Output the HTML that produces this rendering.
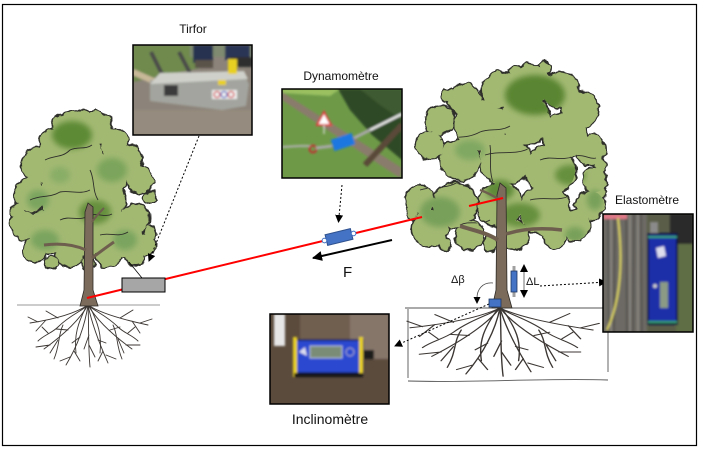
<!DOCTYPE html>
<html><head><meta charset="utf-8"><style>
html,body{margin:0;padding:0;background:#fff;}
svg{display:block;}
text{font-family:"Liberation Sans",sans-serif;fill:#111;}
</style></head><body>
<svg width="704" height="450" viewBox="0 0 704 450" xmlns="http://www.w3.org/2000/svg">
<defs>
<filter id="bl" x="-30%" y="-30%" width="160%" height="160%"><feGaussianBlur stdDeviation="3"/></filter>
<filter id="bl2" x="-30%" y="-30%" width="160%" height="160%"><feGaussianBlur stdDeviation="1"/></filter>
<filter id="rough" x="-10%" y="-10%" width="120%" height="120%">
<feTurbulence type="fractalNoise" baseFrequency="0.12" numOctaves="2" seed="3" result="n"/>
<feDisplacementMap in="SourceGraphic" in2="n" scale="7" xChannelSelector="R" yChannelSelector="G"/>
</filter>
<g id="lcrown">
<circle cx="70" cy="130" r="18"/><circle cx="95" cy="128" r="16"/><circle cx="55" cy="145" r="16"/>
<circle cx="115" cy="142" r="14"/><circle cx="128" cy="160" r="14"/><circle cx="40" cy="165" r="18"/>
<circle cx="80" cy="160" r="25"/><circle cx="110" cy="172" r="20"/><circle cx="140" cy="180" r="13"/>
<circle cx="30" cy="195" r="16"/><circle cx="65" cy="195" r="25"/><circle cx="100" cy="200" r="25"/>
<circle cx="135" cy="218" r="14"/><circle cx="25" cy="225" r="14"/><circle cx="50" cy="230" r="22"/>
<circle cx="85" cy="230" r="25"/><circle cx="120" cy="235" r="22"/><circle cx="145" cy="245" r="10"/>
<circle cx="35" cy="250" r="12"/><circle cx="70" cy="252" r="14"/><circle cx="108" cy="255" r="12"/>
<circle cx="135" cy="255" r="10"/><circle cx="82" cy="116" r="6"/><circle cx="104" cy="120" r="6"/>
<circle cx="150" cy="198" r="6"/><circle cx="18" cy="212" r="6"/><circle cx="150" cy="232" r="6"/>
<circle cx="88" cy="262" r="6"/><circle cx="52" cy="262" r="6"/>
</g>
<clipPath id="lclip">
<circle cx="70" cy="130" r="18"/><circle cx="95" cy="128" r="16"/><circle cx="55" cy="145" r="16"/>
<circle cx="115" cy="142" r="14"/><circle cx="128" cy="160" r="14"/><circle cx="40" cy="165" r="18"/>
<circle cx="80" cy="160" r="25"/><circle cx="110" cy="172" r="20"/><circle cx="140" cy="180" r="13"/>
<circle cx="30" cy="195" r="16"/><circle cx="65" cy="195" r="25"/><circle cx="100" cy="200" r="25"/>
<circle cx="135" cy="218" r="14"/><circle cx="25" cy="225" r="14"/><circle cx="50" cy="230" r="22"/>
<circle cx="85" cy="230" r="25"/><circle cx="120" cy="235" r="22"/><circle cx="145" cy="245" r="10"/>
<circle cx="35" cy="250" r="12"/><circle cx="70" cy="252" r="14"/><circle cx="108" cy="255" r="12"/>
<circle cx="135" cy="255" r="10"/>
</clipPath>
<g id="rcrown">
<circle cx="530" cy="85" r="20"/><circle cx="500" cy="90" r="18"/><circle cx="560" cy="90" r="18"/>
<circle cx="465" cy="100" r="16"/><circle cx="440" cy="120" r="14"/><circle cx="580" cy="110" r="18"/>
<circle cx="480" cy="125" r="25"/><circle cx="525" cy="120" r="25"/><circle cx="565" cy="135" r="22"/>
<circle cx="590" cy="150" r="15"/><circle cx="430" cy="145" r="14"/><circle cx="460" cy="160" r="20"/>
<circle cx="505" cy="160" r="25"/><circle cx="550" cy="170" r="25"/><circle cx="595" cy="180" r="12"/>
<circle cx="590" cy="205" r="14"/><circle cx="420" cy="200" r="14"/><circle cx="455" cy="205" r="22"/>
<circle cx="500" cy="205" r="22"/><circle cx="545" cy="210" r="25"/><circle cx="575" cy="225" r="15"/>
<circle cx="430" cy="228" r="18"/><circle cx="470" cy="235" r="14"/><circle cx="515" cy="235" r="14"/>
<circle cx="555" cy="238" r="10"/><circle cx="598" cy="192" r="8"/><circle cx="545" cy="68" r="6"/>
<circle cx="515" cy="72" r="6"/><circle cx="448" cy="96" r="6"/><circle cx="412" cy="212" r="6"/>
<circle cx="600" cy="165" r="6"/><circle cx="490" cy="244" r="6"/><circle cx="445" cy="244" r="6"/>
</g>
<clipPath id="rclip">
<circle cx="530" cy="85" r="20"/><circle cx="500" cy="90" r="18"/><circle cx="560" cy="90" r="18"/>
<circle cx="465" cy="100" r="16"/><circle cx="440" cy="120" r="14"/><circle cx="580" cy="110" r="18"/>
<circle cx="480" cy="125" r="25"/><circle cx="525" cy="120" r="25"/><circle cx="565" cy="135" r="22"/>
<circle cx="590" cy="150" r="15"/><circle cx="430" cy="145" r="14"/><circle cx="460" cy="160" r="20"/>
<circle cx="505" cy="160" r="25"/><circle cx="550" cy="170" r="25"/><circle cx="595" cy="180" r="12"/>
<circle cx="590" cy="205" r="14"/><circle cx="420" cy="200" r="14"/><circle cx="455" cy="205" r="22"/>
<circle cx="500" cy="205" r="22"/><circle cx="545" cy="210" r="25"/><circle cx="575" cy="225" r="15"/>
<circle cx="430" cy="228" r="18"/><circle cx="470" cy="235" r="14"/><circle cx="515" cy="235" r="14"/>
<circle cx="555" cy="238" r="10"/>
</clipPath>
<g id="roots" fill="none" stroke="#3b3633" stroke-width="0.9" stroke-linecap="round">
<path d="M0,0 C-12,8 -32,14 -58,18 M-30,13 L-42,6 M-42,15 L-52,26 M-50,17 L-60,12"/>
<path d="M0,0 C-8,14 -22,28 -44,44 M-20,25 L-32,24 M-30,35 L-38,48 M-38,40 L-52,42"/>
<path d="M0,0 C-3,20 -10,40 -22,60 M-8,32 L-16,38 M-14,46 L-8,56 M-18,52 L-28,56"/>
<path d="M0,0 C1,20 0,40 2,62 M1,30 L-4,44 M1,40 L7,52"/>
<path d="M0,0 C4,20 12,40 20,58 M10,35 L18,38 M15,46 L10,56 M18,50 L28,54"/>
<path d="M0,0 C8,14 22,28 44,44 M22,25 L32,22 M30,34 L36,48 M38,40 L52,40"/>
<path d="M0,0 C12,8 32,14 60,20 M32,13 L45,5 M44,16 L52,28 M52,18 L64,14"/>
<path d="M0,0 C-6,6 -18,10 -30,22 C-36,28 -44,30 -50,36 M-40,28 L-46,22"/>
<path d="M0,0 C6,6 18,10 30,22 C36,28 44,30 50,36 M40,28 L47,22"/>
<path d="M-2,2 C-10,18 -14,30 -12,48 M2,2 C10,18 14,30 12,48"/>
<path d="M-1,0 L-4,-4 M1,0 L4,-4"/>
<path d="M-25,20 C-30,30 -28,40 -34,54 M25,20 C30,30 28,40 34,54"/>
</g>
<marker id="ah" markerWidth="8" markerHeight="8" refX="7" refY="4" orient="auto" markerUnits="userSpaceOnUse"><path d="M0,0 L8,4 L0,8 Z" fill="#000"/></marker>
<marker id="ahb" markerWidth="10" markerHeight="10" refX="9" refY="5" orient="auto" markerUnits="userSpaceOnUse"><path d="M0,0 L10,5 L0,10 Z" fill="#000"/></marker>
</defs>

<rect width="704" height="450" fill="#fff"/>
<rect x="2.5" y="4.5" width="694" height="441" fill="none" stroke="#000" stroke-width="1.2"/>

<!-- LEFT TREE -->
<line x1="17" y1="305" x2="160" y2="305" stroke="#777" stroke-width="0.8"/>
<use href="#roots" transform="translate(88,305)"/>
<g filter="url(#rough)">
<use href="#lcrown" fill="#2e2e2a" stroke="#2e2e2a" stroke-width="3"/>
<use href="#lcrown" fill="#a2b972"/>
</g>
<g clip-path="url(#lclip)">
<g filter="url(#bl)">
<ellipse cx="72" cy="135" rx="20" ry="14" fill="#5d8a35"/>
<ellipse cx="95" cy="212" rx="16" ry="12" fill="#66903c"/>
<ellipse cx="45" cy="240" rx="14" ry="10" fill="#7aa45e"/>
<ellipse cx="112" cy="170" rx="15" ry="12" fill="#7ba45c"/>
<ellipse cx="38" cy="200" rx="11" ry="10" fill="#7aa45e"/>
<ellipse cx="125" cy="240" rx="12" ry="10" fill="#7aa45e"/>
<ellipse cx="60" cy="175" rx="10" ry="8" fill="#88ad66"/>
</g>
<g fill="none" stroke="#2e2e2a" stroke-width="0.9">
<path d="M45,160 C55,155 62,158 70,150 C78,146 85,150 92,145"/>
<path d="M30,200 C40,195 50,198 60,192 C70,190 80,195 90,190"/>
<path d="M90,170 C95,180 92,190 98,200"/>
<path d="M60,220 C70,215 78,222 88,216 C96,212 105,218 112,214"/>
<path d="M100,235 C110,232 118,238 128,232"/>
</g>
</g>
<polygon points="80,306 84,290 85,212 88,203 93,207 93,290 98,306" fill="#7a6b5a" stroke="#2e2a26" stroke-width="0.8"/>
<path d="M86,250 C75,245 60,243 44,245" stroke="#6e5e4e" stroke-width="3" fill="none"/>
<path d="M92,258 C100,252 108,246 114,242" stroke="#6e5e4e" stroke-width="3" fill="none"/>
<path d="M92,222 C96,216 100,212 104,208" stroke="#6e5e4e" stroke-width="2" fill="none"/>

<!-- RIGHT TREE -->
<g fill="none" stroke="#555" stroke-width="0.9">
<path d="M405,308 L610,308"/>
<path d="M408,309 L408,378"/>
<path d="M608,309 L608,372"/>
<path d="M408,381 C470,383 540,378 608,380"/>
</g>
<use href="#roots" transform="translate(500,308) scale(1.55,1.1)"/>
<g filter="url(#rough)">
<use href="#rcrown" fill="#2e2e2a" stroke="#2e2e2a" stroke-width="3"/>
<use href="#rcrown" fill="#a2b972"/>
</g>
<g clip-path="url(#rclip)">
<g filter="url(#bl)">
<ellipse cx="535" cy="95" rx="30" ry="20" fill="#5a8530"/>
<ellipse cx="520" cy="215" rx="20" ry="12" fill="#66903c"/>
<ellipse cx="570" cy="175" rx="15" ry="10" fill="#66903c"/>
<ellipse cx="440" cy="212" rx="20" ry="15" fill="#78a05a"/>
<ellipse cx="470" cy="150" rx="15" ry="10" fill="#80a862"/>
<ellipse cx="575" cy="235" rx="10" ry="8" fill="#78a05a"/>
<ellipse cx="500" cy="190" rx="14" ry="10" fill="#5f8a38"/>
<ellipse cx="595" cy="200" rx="8" ry="10" fill="#78a05a"/>
</g>
<g fill="none" stroke="#2e2e2a" stroke-width="0.9">
<path d="M440,140 C455,135 465,140 480,132 C490,128 500,132 510,126"/>
<path d="M485,155 C500,150 515,156 530,148"/>
<path d="M490,145 C492,160 488,170 494,185"/>
<path d="M540,160 C552,155 560,162 575,156 C585,154 590,160 596,158"/>
<path d="M420,190 C435,185 445,190 458,182"/>
<path d="M530,200 C545,196 555,202 570,196"/>
<path d="M460,225 C470,220 480,226 490,220"/>
</g>
</g>
<polygon points="492,308 496,290 497,195 500,183 506,188 507,290 512,308" fill="#7a6b5a" stroke="#2e2a26" stroke-width="0.8"/>
<path d="M498,240 C485,232 472,230 460,226" stroke="#6e5e4e" stroke-width="4" fill="none"/>
<path d="M506,234 C525,228 545,228 562,230" stroke="#6e5e4e" stroke-width="3.5" fill="none"/>
<path d="M500,200 C492,195 486,192 480,190" stroke="#6e5e4e" stroke-width="2.5" fill="none"/>

<!-- red cable -->
<line x1="87" y1="298" x2="422" y2="217" stroke="#ff0000" stroke-width="2"/>
<line x1="469" y1="206" x2="503" y2="198" stroke="#ff0000" stroke-width="2"/>

<!-- gray box tirfor -->
<rect x="122" y="278" width="43" height="14" fill="#a6a6a6" stroke="#000" stroke-width="1"/>
<line x1="129" y1="262" x2="142" y2="278" stroke="#000" stroke-width="0.8"/>

<!-- dynamometer on cable -->
<g transform="translate(339,237) rotate(-13.6)">
<rect x="-13" y="-5.5" width="26" height="11" fill="#4472c4" stroke="#2f528f" stroke-width="1"/>
<circle cx="-15" cy="0" r="2.3" fill="#fff" stroke="#4472c4" stroke-width="1"/>
<circle cx="15" cy="0" r="2.3" fill="#fff" stroke="#4472c4" stroke-width="1"/>
</g>

<!-- F arrow -->
<line x1="392" y1="240" x2="313" y2="258" stroke="#000" stroke-width="2" marker-end="url(#ahb)"/>
<text x="343" y="277" font-size="15">F</text>

<!-- dashed connectors -->
<line x1="199" y1="136" x2="149" y2="261" stroke="#000" stroke-width="1" stroke-dasharray="2,2" marker-end="url(#ah)"/>
<line x1="342" y1="185" x2="338.5" y2="222" stroke="#000" stroke-width="1" stroke-dasharray="2,2" marker-end="url(#ah)"/>
<line x1="540" y1="286" x2="606" y2="282" stroke="#000" stroke-width="1" stroke-dasharray="2,2" marker-end="url(#ah)"/>
<line x1="489" y1="304" x2="395" y2="346" stroke="#000" stroke-width="1" stroke-dasharray="2,2" marker-end="url(#ah)"/>

<!-- sensors on right tree -->
<rect x="489" y="299" width="12" height="8" fill="#4472c4" stroke="#1f3864" stroke-width="0.8"/>
<rect x="512.5" y="266" width="3" height="31" fill="#a0a0a0"/>
<rect x="511" y="271" width="6" height="21" fill="#4472c4" stroke="#1f3864" stroke-width="0.8"/>
<line x1="524" y1="270" x2="524" y2="292" stroke="#888" stroke-width="1.2"/>
<path d="M520,272 L524,264 L528,272 Z" fill="#000"/>
<path d="M520,290 L524,298 L528,290 Z" fill="#000"/>
<path d="M493,283 C482,282 477,290 477,298" fill="none" stroke="#444" stroke-width="0.8"/>
<path d="M473.5,297 L477,304 L480.5,297 Z" fill="#000"/>
<text x="451" y="283" font-size="11">Δβ</text>
<text x="526" y="285" font-size="11">ΔL</text>

<!-- labels -->
<text x="193" y="33" font-size="12" text-anchor="middle">Tirfor</text>
<text x="341" y="80" font-size="12" text-anchor="middle">Dynamomètre</text>
<text x="647" y="204" font-size="12" text-anchor="middle">Elastomètre</text>
<text x="330" y="424" font-size="14" text-anchor="middle">Inclinomètre</text>

<!-- TIRFOR PHOTO -->
<svg x="133" y="45" width="119" height="90" viewBox="133 45 119 90">
<rect x="133" y="45" width="119" height="90" fill="#8c847a"/>
<g filter="url(#bl2)">
<polygon points="133,45 200,45 200,68 133,82" fill="#6f8a4e"/>
<rect x="190" y="45" width="62" height="12" fill="#7f8a70"/>
<rect x="193" y="45" width="20" height="18" fill="#263250"/>
<rect x="225" y="45" width="25" height="15" fill="#2b3656"/>
<rect x="195" y="60" width="18" height="8" fill="#5a5248"/>
<rect x="230" y="57" width="22" height="10" fill="#2e2e2e"/>
<line x1="151" y1="52" x2="163" y2="76" stroke="#4a4a4a" stroke-width="4"/>
<line x1="179" y1="52" x2="190" y2="73" stroke="#4a4a4a" stroke-width="4"/>
<line x1="133" y1="72" x2="160" y2="84" stroke="#c8b898" stroke-width="6"/>
<polygon points="150,80 245,76 249,84 246,106 222,110 150,101" fill="#a3a49f"/>
<polygon points="160,73 244,71 248,79 150,84" fill="#cfd0ca"/>
<rect x="164" y="85" width="14" height="11" fill="#3a3a3a"/>
<rect x="212" y="90" width="25" height="9" fill="#f0f0f0"/>
<circle cx="217" cy="94.5" r="3" fill="none" stroke="#d02020" stroke-width="1.2"/>
<circle cx="224" cy="94.5" r="3" fill="none" stroke="#3050c0" stroke-width="1.2"/>
<circle cx="231" cy="94.5" r="3" fill="none" stroke="#d02020" stroke-width="1.2"/>
<rect x="228" y="59" width="9" height="15" fill="#e8d020"/>
<rect x="218" y="80" width="8" height="5" fill="#e8d020"/>
<rect x="133" y="110" width="119" height="25" fill="#958b7e"/>
</g>
</svg>
<rect x="133" y="45" width="119" height="90" fill="none" stroke="#000" stroke-width="1.5"/>

<!-- DYNAMOMETER PHOTO -->
<svg x="282" y="89" width="120" height="89" viewBox="282 89 120 89">
<rect x="282" y="89" width="120" height="89" fill="#6e9a48"/>
<g filter="url(#bl2)">
<polygon points="282,89 340,89 330,96 282,93" fill="#9ac060"/>
<polygon points="338,89 402,89 402,160 372,135 350,110" fill="#2f4a27"/>
<polygon points="360,89 402,89 402,120 380,105" fill="#3c5a30"/>
<polygon points="282,92 282,100 400,178 402,168" fill="#8a7c6c"/>
<line x1="365" y1="165" x2="402" y2="125" stroke="#5a4a38" stroke-width="6"/>
<polygon points="324,112 317,125 331,125" fill="#fff" stroke="#e04040" stroke-width="2"/>
<line x1="324" y1="125" x2="324" y2="134" stroke="#ddd" stroke-width="1.2"/>
<polyline points="282,147 300,146 312,146" fill="none" stroke="#b0b0b0" stroke-width="2"/>
<circle cx="313" cy="149" r="3.5" fill="none" stroke="#c03030" stroke-width="2"/>
<line x1="316" y1="148" x2="332" y2="146" stroke="#a8a8a8" stroke-width="3"/>
<g transform="translate(343,142) rotate(-18)"><rect x="-11" y="-6" width="22" height="12" fill="#1e78e0"/></g>
<line x1="354" y1="138" x2="370" y2="130" stroke="#a8a8a8" stroke-width="3"/>
<line x1="370" y1="130" x2="402" y2="114" stroke="#e8e8e8" stroke-width="2.5"/>
</g>
</svg>
<rect x="282" y="89" width="120" height="89" fill="none" stroke="#000" stroke-width="1.5"/>

<!-- ELASTOMETER PHOTO -->
<svg x="603" y="214" width="90" height="118" viewBox="603 214 90 118">
<rect x="603" y="214" width="90" height="118" fill="#5a5e48"/>
<g filter="url(#bl2)">
<rect x="603" y="214" width="44" height="118" fill="#6d6a65"/>
<g stroke="#4a4744" stroke-width="1.2">
<line x1="608" y1="214" x2="609" y2="332"/><line x1="615" y1="214" x2="614" y2="332"/>
<line x1="626" y1="214" x2="627" y2="332"/><line x1="634" y1="214" x2="633" y2="332"/>
<line x1="641" y1="214" x2="642" y2="332"/>
</g>
<g stroke="#9a9690" stroke-width="1">
<line x1="611" y1="214" x2="611" y2="332"/><line x1="630" y1="214" x2="630" y2="332"/>
<line x1="638" y1="214" x2="638" y2="332"/>
</g>
<rect x="603" y="214" width="24" height="5" fill="#e07888"/>
<path d="M618,218 C623,260 621,300 607,330" fill="none" stroke="#d8d060" stroke-width="2"/>
<rect x="670" y="214" width="23" height="30" fill="#2a2a2a"/>
<rect x="676" y="244" width="17" height="88" fill="#5e6e44"/>
<rect x="650" y="222" width="8" height="12" fill="#8a8a8a"/>
<rect x="648" y="234" width="29" height="90" fill="#1f2fa8" stroke="#0e1540" stroke-width="2"/>
<rect x="648" y="236" width="29" height="2" fill="#3aa070"/>
<rect x="648" y="321" width="29" height="2" fill="#3aa070"/>
<polygon points="656,248 664,246 666,256 658,258" fill="#dde"/>
<rect x="660" y="282" width="8" height="26" fill="#8a9a84"/>
<circle cx="655" cy="286" r="2" fill="#ccc"/>
</g>
</svg>
<rect x="603" y="214" width="90" height="118" fill="none" stroke="#000" stroke-width="1.5"/>

<!-- INCLINOMETER PHOTO -->
<svg x="270" y="314" width="119" height="90" viewBox="270 314 119 90">
<rect x="270" y="314" width="119" height="90" fill="#5b4b3d"/>
<g filter="url(#bl2)">
<rect x="300" y="314" width="89" height="30" fill="#6f5f50"/>
<rect x="350" y="314" width="39" height="45" fill="#86766a"/>
<rect x="274" y="314" width="11" height="32" fill="#e6e6e6"/>
<rect x="362" y="350" width="12" height="9" fill="#1a1a1a"/>
<rect x="294" y="340" width="69" height="33" fill="#2a4ad0" stroke="#101a50" stroke-width="1.5"/>
<rect x="293" y="337" width="4" height="40" fill="#e8d020"/>
<rect x="359" y="337" width="4" height="40" fill="#e8d020"/>
<rect x="310" y="346" width="32" height="12" fill="#7a8c76" stroke="#c8d0e8" stroke-width="0.8"/>
<circle cx="350" cy="352" r="4" fill="none" stroke="#aac" stroke-width="1"/>
<polygon points="299,352 305,347 307,356" fill="#dde"/>
<rect x="294" y="373" width="69" height="4" fill="#141414"/>
</g>
</svg>
<rect x="270" y="314" width="119" height="90" fill="none" stroke="#000" stroke-width="1.5"/>
</svg>
</body></html>
